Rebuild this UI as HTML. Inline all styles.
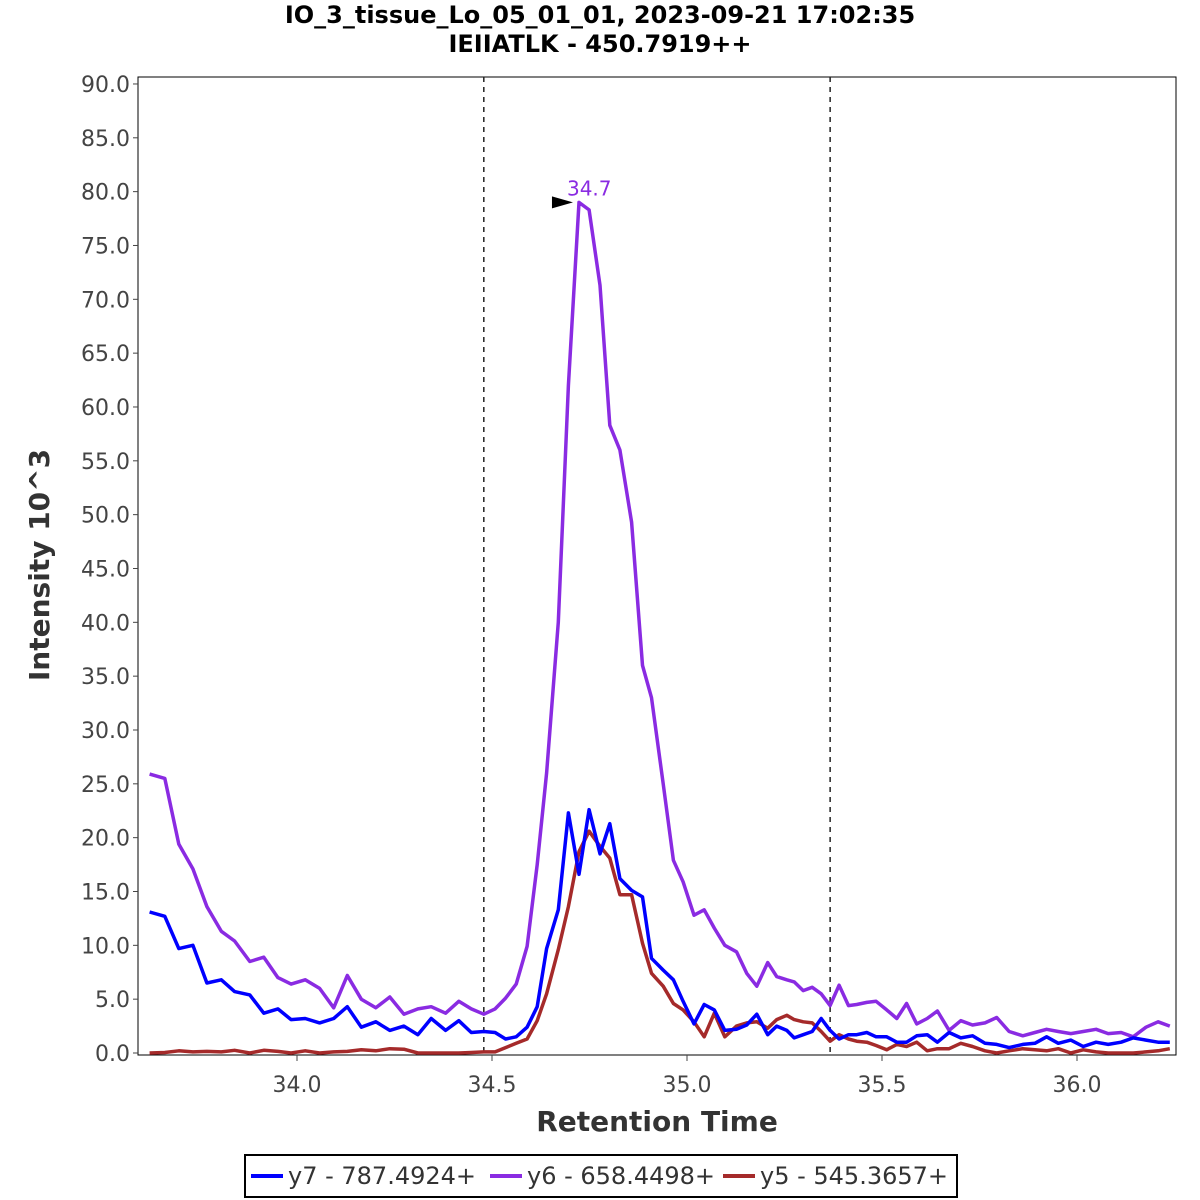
<!DOCTYPE html>
<html><head><meta charset="utf-8"><style>
body{margin:0;background:#fff;}
svg{display:block;font-family:"DejaVu Sans","Liberation Sans",sans-serif;}
</style></head><body>
<svg id="chart" width="1200" height="1200" viewBox="0 0 1200 1200" xmlns="http://www.w3.org/2000/svg">
<rect width="1200" height="1200" fill="#fff"/>
<text x="600" y="23" text-anchor="middle" font-size="24" font-weight="bold">IO_3_tissue_Lo_05_01_01, 2023-09-21 17:02:35</text>
<text x="600" y="52" text-anchor="middle" font-size="24" font-weight="bold">IEIIATLK - 450.7919++</text>
<g id="axes"></g>
<g id="series"></g>
<text transform="translate(49,565) rotate(-90)" text-anchor="middle" font-size="28" font-weight="bold" fill="#333">Intensity 10^3</text>
<text x="657" y="1131" text-anchor="middle" font-size="28" font-weight="bold" fill="#333">Retention Time</text>
<g>
<rect x="245" y="1155" width="712" height="42" fill="#fff" stroke="#000" stroke-width="2"/>
<line x1="251" y1="1176" x2="283" y2="1176" stroke="#0000ff" stroke-width="4"/>
<text x="288" y="1184" font-size="24" fill="#333">y7 - 787.4924+</text>
<line x1="490" y1="1176" x2="522" y2="1176" stroke="#8a2be2" stroke-width="4"/>
<text x="527" y="1184" font-size="24" fill="#333">y6 - 658.4498+</text>
<line x1="723" y1="1176" x2="755" y2="1176" stroke="#a52a2a" stroke-width="4"/>
<text x="760" y="1184" font-size="24" fill="#333">y5 - 545.3657+</text>
</g>
</svg>
<script>
const times=[33.622,33.661,33.697,33.733,33.769,33.806,33.840,33.879,33.915,33.951,33.985,34.021,34.058,34.094,34.129,34.165,34.202,34.238,34.274,34.310,34.344,34.381,34.415,34.447,34.479,34.508,34.535,34.562,34.590,34.616,
34.640,34.670,34.696,34.723,34.749,34.777,34.802,34.828,34.858,34.886,34.909,34.939,34.965,34.990,35.018,35.044,35.070,35.097,35.127,35.153,35.179,35.207,35.230,35.256,35.275,35.298,35.321,35.344,35.367,35.390,
35.414,35.435,35.461,35.485,35.512,35.538,35.563,35.589,35.616,35.642,35.672,35.702,35.732,35.764,35.794,35.826,35.861,35.892,35.922,35.952,35.984,36.016,36.049,36.080,36.113,36.144,36.177,36.208,36.238];
const y7=[13.1,12.7,9.7,10.0,6.5,6.8,5.7,5.4,3.7,4.1,3.1,3.2,2.8,3.2,4.3,2.4,2.9,2.1,2.5,1.7,3.2,2.1,3.0,1.9,2.0,1.9,1.3,1.5,2.4,4.3,
9.7,13.3,22.3,16.6,22.6,18.5,21.3,16.2,15.1,14.5,8.8,7.7,6.8,4.8,2.7,4.5,4.0,2.1,2.2,2.6,3.6,1.7,2.5,2.1,1.4,1.7,2.0,3.2,2.1,1.3,
1.7,1.7,1.9,1.5,1.5,1.0,1.0,1.6,1.7,1.0,1.9,1.4,1.6,0.9,0.8,0.5,0.8,0.9,1.5,0.9,1.2,0.6,1.0,0.8,1.0,1.4,1.2,1.0,1.0];
const y6=[25.9,25.5,19.4,17.1,13.6,11.3,10.4,8.5,8.9,7.0,6.4,6.8,6.0,4.2,7.2,5.0,4.2,5.2,3.6,4.1,4.3,3.7,4.8,4.1,3.6,4.1,5.1,6.4,9.9,17.5,
26.0,40.0,62.0,79.0,78.3,71.3,58.3,56.0,49.3,36.0,33.0,25.0,17.9,15.9,12.8,13.3,11.6,10.0,9.4,7.4,6.2,8.4,7.1,6.8,6.6,5.8,6.1,5.5,4.4,6.3,
4.4,4.5,4.7,4.8,4.0,3.2,4.6,2.7,3.2,3.9,2.1,3.0,2.6,2.8,3.3,2.0,1.6,1.9,2.2,2.0,1.8,2.0,2.2,1.8,1.9,1.5,2.4,2.9,2.5];
const y5=[0,0.05,0.2,0.1,0.15,0.1,0.25,0,0.25,0.15,0,0.2,0,0.1,0.15,0.3,0.2,0.4,0.35,0,0,0,0,0.05,0.1,0.1,0.5,0.9,1.3,3.0,
5.5,9.6,13.6,18.7,20.6,19.2,18.1,14.7,14.7,10.2,7.4,6.2,4.6,4.0,2.9,1.5,3.7,1.5,2.5,2.8,2.9,2.3,3.1,3.5,3.1,2.9,2.8,2.0,1.1,1.7,
1.3,1.1,1.0,0.7,0.3,0.8,0.6,1.0,0.2,0.4,0.4,0.9,0.6,0.2,0.0,0.2,0.4,0.3,0.2,0.4,0,0.3,0.1,0,0,0,0.1,0.2,0.4];
const yTicks=[0,5,10,15,20,25,30,35,40,45,50,55,60,65,70,75,80,85,90];
const xTicks=[34.0,34.5,35.0,35.5,36.0];
const boundaries=[34.479,35.367];
const peakTime=34.723, peakValue=79.0, peakLabel="34.7";

const NS="http://www.w3.org/2000/svg";
const L=138,R=1176,T=77,B=1053;
function xs(t){return 297+(t-34.0)*390;}
function ys(v){return 1053-v*10.767;}
function mk(tag,attrs,parent){const e=document.createElementNS(NS,tag);for(const k in attrs)e.setAttribute(k,attrs[k]);parent.appendChild(e);return e;}
const axes=document.getElementById('axes'), ser=document.getElementById('series');
const frame=mk('rect',{x:L,y:T,width:R-L,height:B-T+2,fill:'none',stroke:'#000','stroke-width':1},axes);


yTicks.forEach(v=>{
  const y=ys(v);
  const tk=mk('line',{x1:L-5,x2:L,y1:y,y2:y,stroke:'#444'},axes);
  
  
  const tx=mk('text',{x:L-8,y:y+8,'text-anchor':'end','font-size':22,fill:'#444'},axes);
  
  
  tx.textContent=v.toFixed(1);
});
xTicks.forEach(t=>{
  const x=xs(t);
  const tk=mk('line',{x1:x,x2:x,y1:B+2,y2:B+8,stroke:'#444'},axes);
  
  
  const tx=mk('text',{x:x,y:B+39,'text-anchor':'middle','font-size':22,fill:'#444'},axes);
  
  
  tx.textContent=t.toFixed(1);
});
boundaries.forEach(t=>{
  const x=xs(t);
  const ln=mk('line',{x1:x,x2:x,y1:T,y2:B+2,stroke:'#222','stroke-width':1.5,'stroke-dasharray':'5,5'},axes);
  
  
});
function drawSeries(vals,color,name){
  const d=vals.map((v,i)=>(i?'L':'M')+xs(times[i]).toFixed(1)+','+ys(v).toFixed(1)).join(' ');
  const p=mk('path',{d:d,fill:'none',stroke:color,'stroke-width':3.5,'stroke-linejoin':'round'},ser);
  
  
}
drawSeries(y5,'#a52a2a','series-y5');
drawSeries(y6,'#8a2be2','series-y6');
drawSeries(y7,'#0000ff','series-y7');
const px=xs(peakTime), py=ys(peakValue);
const arr=mk('polygon',{points:`${px-6},${py} ${px-27},${py-6} ${px-27},${py+6}`,fill:'#000'},ser);


const pl=mk('text',{x:px-12,y:py-7,'font-size':20,fill:'#8a2be2'},ser);


pl.textContent=peakLabel;
</script>
</body></html>
